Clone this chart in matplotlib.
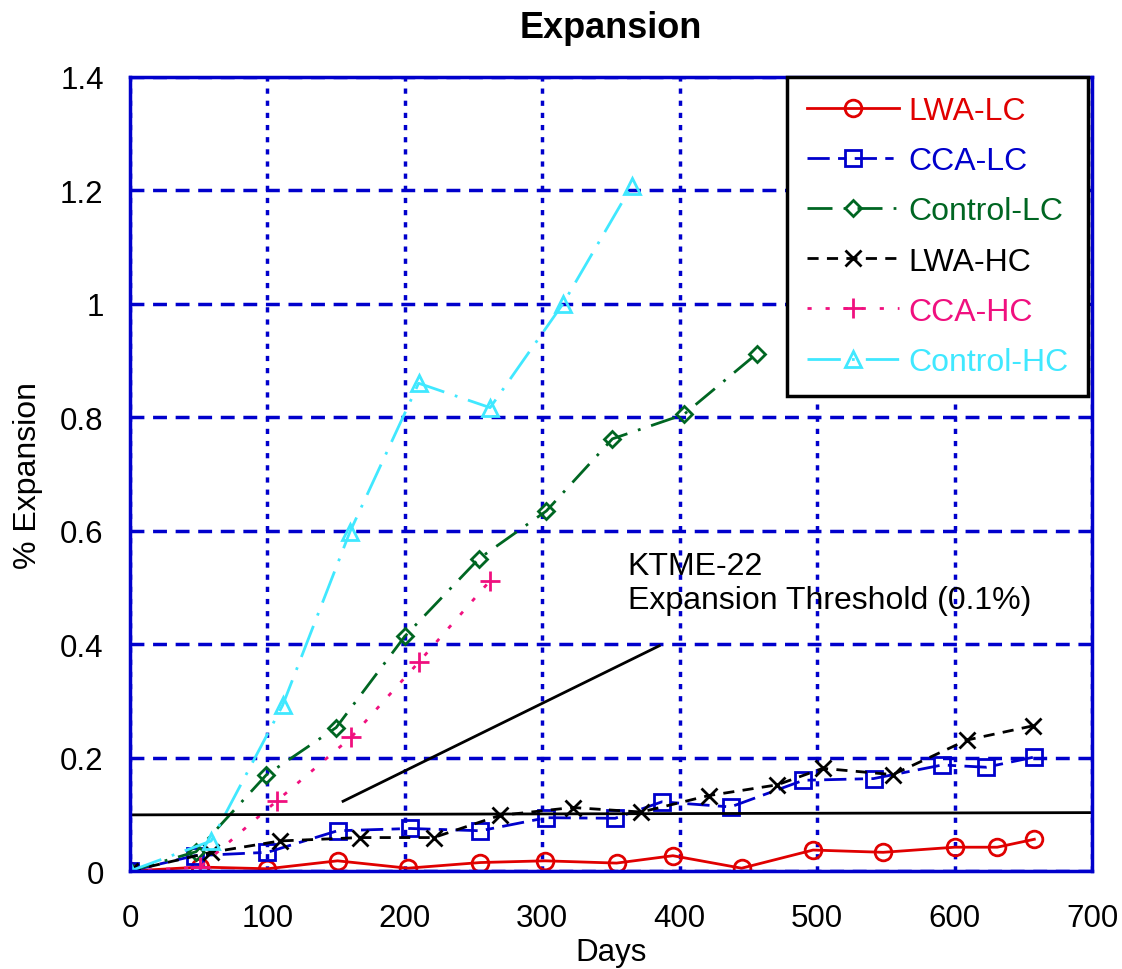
import numpy as np
import matplotlib
matplotlib.use("Agg")
import matplotlib.pyplot as plt

plt.rcParams['font.family'] = ['Liberation Sans', 'DejaVu Sans']

# days / % expansion
lwa_lc_x = [0, 51, 100, 151, 202, 255, 302, 354, 395, 445, 497, 548, 600, 631, 658]
lwa_lc_y = [0, 0.007, 0.004, 0.018, 0.005, 0.015, 0.018, 0.014, 0.027, 0.005, 0.037, 0.033, 0.042, 0.042, 0.056]

cca_lc_x = [0, 47, 100, 151, 204, 255, 303, 353, 387, 437, 490, 541, 591, 623, 658]
cca_lc_y = [0, 0.027, 0.033, 0.071, 0.075, 0.071, 0.094, 0.093, 0.122, 0.113, 0.160, 0.163, 0.187, 0.183, 0.201]

ctl_lc_x = [0, 48, 99, 150, 200, 254, 303, 351, 403, 456]
ctl_lc_y = [0, 0.034, 0.169, 0.253, 0.414, 0.551, 0.635, 0.762, 0.805, 0.912]

lwa_hc_x = [0, 59, 109, 167, 221, 269, 322, 372, 421, 471, 504, 555, 609, 657]
lwa_hc_y = [0, 0.033, 0.053, 0.059, 0.059, 0.098, 0.112, 0.104, 0.133, 0.152, 0.181, 0.170, 0.231, 0.256]

cca_hc_x = [0, 51, 107, 161, 210, 262]
cca_hc_y = [0, 0.007, 0.124, 0.236, 0.368, 0.512]

ctl_hc_x = [0, 59, 111, 160, 210, 262, 315, 365]
ctl_hc_y = [0, 0.053, 0.292, 0.598, 0.860, 0.817, 1.000, 1.208]

thr_x = [0, 700]
thr_y = [0.099, 0.103]
arrow_x = [155, 385]
arrow_y = [0.123, 0.397]

fig = plt.figure(figsize=(11.22, 9.70), dpi=100)
ax = fig.add_axes([0.1159, 0.101, 0.8574, 0.8186])

blue = '#0000CC'
fs = 22.5

ax.plot(lwa_lc_x, lwa_lc_y, color='#E00000', lw=2, marker='o', ms=12,
        mfc='none', mew=2, label='LWA-LC')
ax.plot(cca_lc_x, cca_lc_y, color='#0000CC', lw=2, ls=(0, (8, 3, 3, 3)), marker='s', ms=12,
        mfc='none', mew=2, label='CCA-LC')
ax.plot(ctl_lc_x, ctl_lc_y, color='#006622', lw=2, ls=(0, (9, 4, 1, 4)), marker='D', ms=8.5,
        mfc='none', mew=2, label='Control-LC')
ax.plot(lwa_hc_x, lwa_hc_y, color='black', lw=2, ls=(0, (4, 3)), marker='x', ms=12,
        mew=2, label='LWA-HC')
ax.plot(cca_hc_x, cca_hc_y, color='#F0107F', lw=2, ls=(0, (1.5, 5)), marker='+', ms=14,
        mew=2, label='CCA-HC')
ax.plot(ctl_hc_x, ctl_hc_y, color='#40E8FF', lw=2, ls=(0, (12, 4, 1, 4)), marker='^', ms=12,
        mfc='none', mew=2, label='Control-HC')

ax.plot(thr_x, thr_y, color='black', lw=2)
ax.plot(arrow_x, arrow_y, color='black', lw=2)
ax.text(362, 0.565, 'KTME-22\nExpansion Threshold (0.1%)', fontsize=23,
        ha='left', va='top', linespacing=1.2)

ax.set_xlim(0, 700)
ax.set_ylim(0, 1.4)
ax.set_xticks(np.arange(0, 701, 100))
ax.set_yticks(np.arange(0, 1.41, 0.2))
ax.set_yticklabels(['0', '0.2', '0.4', '0.6', '0.8', '1', '1.2', '1.4'])
ax.tick_params(length=0, labelsize=fs)
ax.tick_params(axis='y', pad=19)
ax.tick_params(axis='x', pad=23)

ax.xaxis.grid(True, color=blue, ls=(0, (1.5, 2)), lw=2.5)
ax.yaxis.grid(True, color=blue, ls=(0, (4, 2.5)), lw=2.5)
for s in ax.spines.values():
    s.set_color(blue)
    s.set_linewidth(2.5)

ax.set_xlabel('Days', fontsize=22.5, labelpad=3)
ax.set_ylabel('% Expansion', fontsize=23, labelpad=12)
ax.set_title('Expansion', fontsize=26, fontweight='bold', pad=29)

leg = ax.legend(loc='upper right', bbox_to_anchor=(0.996, 1.0), borderaxespad=0,
                fontsize=23, handlelength=2.9, handletextpad=0.3, labelspacing=0.63,
                fancybox=False, framealpha=1, edgecolor='black', borderpad=0.6)
leg.get_frame().set_linewidth(2.5)
for txt, ln in zip(leg.get_texts(), leg.get_lines()):
    txt.set_color(ln.get_color())

fig.savefig('out.png', dpi=100)
